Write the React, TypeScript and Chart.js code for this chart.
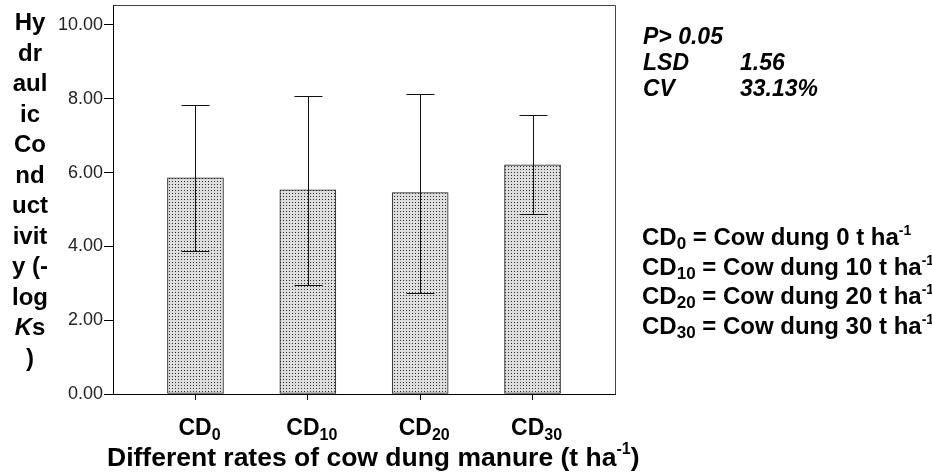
import React, { useEffect, useRef } from 'react';
import { Chart, registerables } from 'chart.js';

Chart.register(...registerables);

const FONT = "'Liberation Sans', Arial, Helvetica, sans-serif";

// ---- data ----
const categoryBase = ['CD', 'CD', 'CD', 'CD'];
const categorySub = ['0', '10', '20', '30'];
const means = [5.86, 5.53, 5.46, 6.21];
const errHigh = [7.82, 8.08, 8.14, 7.57];
const errLow = [3.88, 2.96, 2.73, 4.87];
const yTicks = [0, 2, 4, 6, 8, 10];
const yTitleLines = ['Hy', 'dr', 'aul', 'ic', 'Co', 'nd', 'uct', 'ivit', 'y (-', 'log', '*K*s', ')'];
const statNames = ['P> 0.05', 'LSD', 'CV'];
const statValues = ['', '1.56', '33.13%'];
const legendRates = ['0', '10', '20', '30'];

function makePattern(): CanvasPattern | string {
  const c = document.createElement('canvas');
  c.width = 3;
  c.height = 3;
  const g = c.getContext('2d');
  if (!g) return '#d0d0d0';
  g.fillStyle = '#dedede';
  g.fillRect(0, 0, 3, 3);
  g.fillStyle = '#2a2a2a';
  g.fillRect(1, 1, 1, 1);
  const p = g.createPattern(c, 'repeat');
  return p || '#d0d0d0';
}

const overlayPlugin = {
  id: 'overlay',
  afterDatasetsDraw(chart: any) {
    const { ctx, chartArea, scales } = chart;
    const xs = scales.x;
    const ys = scales.y;
    ctx.save();
    // box top/right border
    ctx.strokeStyle = '#444';
    ctx.lineWidth = 1;
    ctx.beginPath();
    ctx.moveTo(Math.round(chartArea.left) + 0.5, Math.round(chartArea.top) + 0.5);
    ctx.lineTo(Math.round(chartArea.right) + 0.5, Math.round(chartArea.top) + 0.5);
    ctx.lineTo(Math.round(chartArea.right) + 0.5, Math.round(chartArea.bottom) + 0.5);
    ctx.stroke();
    // error bars
    ctx.strokeStyle = '#111';
    const cap = 14;
    means.forEach((_, i) => {
      const x = Math.round(xs.getPixelForValue(i)) + 0.5;
      const yh = Math.round(ys.getPixelForValue(errHigh[i])) + 0.5;
      const yl = Math.round(ys.getPixelForValue(errLow[i])) + 0.5;
      ctx.beginPath();
      ctx.moveTo(x, yh);
      ctx.lineTo(x, yl);
      ctx.moveTo(x - cap, yh);
      ctx.lineTo(x + cap, yh);
      ctx.moveTo(x - cap, yl);
      ctx.lineTo(x + cap, yl);
      ctx.stroke();
    });
    // x category labels with subscripts
    ctx.fillStyle = '#000';
    ctx.textBaseline = 'alphabetic';
    ctx.textAlign = 'left';
    const baseY = chartArea.bottom + 41;
    categoryBase.forEach((b, i) => {
      ctx.font = `bold 23px ${FONT}`;
      const w1 = ctx.measureText(b).width;
      ctx.font = `bold 16px ${FONT}`;
      const w2 = ctx.measureText(categorySub[i]).width;
      const cx = xs.getPixelForValue(i) + 4;
      const start = cx - (w1 + w2) / 2;
      ctx.font = `bold 23px ${FONT}`;
      ctx.fillText(b, start, baseY);
      ctx.font = `bold 16px ${FONT}`;
      ctx.fillText(categorySub[i], start + w1, baseY + 5);
    });
    ctx.restore();
  },
};

function renderItalic(line: string) {
  const parts = line.split('*');
  return parts.map((p, i) => (i % 2 === 1 ? <i key={i}>{p}</i> : <span key={i}>{p}</span>));
}

export default function App() {
  const canvasRef = useRef<HTMLCanvasElement | null>(null);

  useEffect(() => {
    const canvas = canvasRef.current;
    if (!canvas) return;
    const chart = new Chart(canvas, {
      type: 'bar',
      data: {
        datasets: [
          {
            data: means.map((v, i) => ({ x: i, y: v })),
            backgroundColor: makePattern() as any,
            borderColor: '#222',
            borderWidth: 1,
            borderSkipped: false,
            barThickness: 56,
          },
        ],
      },
      options: {
        responsive: false,
        animation: false,
        devicePixelRatio: 1,
        layout: { padding: { left: 0, top: 5, right: 317, bottom: 0 } },
        plugins: { legend: { display: false }, tooltip: { enabled: false }, title: { display: false } },
        scales: {
          x: {
            type: 'linear',
            min: -0.734,
            max: 3.734,
            offset: false,
            afterBuildTicks: (s: any) => {
              s.ticks = categoryBase.map((_, i) => ({ value: i }));
            },
            afterFit: (s: any) => {
              s.height = 79;
              s.paddingLeft = 0;
              s.paddingRight = 0;
            },
            ticks: { callback: () => '', maxRotation: 0, autoSkip: false },
            grid: { offset: false, drawOnChartArea: false, drawTicks: true, tickLength: 6, color: '#000' },
            border: { display: true, color: '#000', width: 1 },
          },
          y: {
            type: 'linear',
            min: 0,
            max: 10.54,
            afterBuildTicks: (s: any) => {
              s.ticks = yTicks.map((v) => ({ value: v }));
            },
            afterFit: (s: any) => {
              s.width = 113;
              s.paddingTop = 0;
              s.paddingBottom = 0;
            },
            ticks: {
              callback: (v: any) => Number(v).toFixed(2),
              font: { size: 18, family: FONT },
              color: '#222',
              padding: 1,
            },
            grid: { drawOnChartArea: false, drawTicks: true, tickLength: 9, color: '#000' },
            border: { display: true, color: '#000', width: 1 },
          },
        },
      },
      plugins: [overlayPlugin],
    });
    return () => chart.destroy();
  }, []);

  const bold: React.CSSProperties = { fontWeight: 'bold', color: '#000', position: 'absolute', whiteSpace: 'nowrap' };
  const subStyle: React.CSSProperties = { fontSize: 17, position: 'relative', top: 4 };
  const supStyle: React.CSSProperties = { fontSize: 14, position: 'relative', top: -10 };

  return (
    <div
      style={{
        position: 'absolute',
        left: 0,
        top: 0,
        width: 932,
        height: 473,
        background: '#fff',
        overflow: 'hidden',
        fontFamily: FONT,
      }}
    >
      <canvas ref={canvasRef} width={932} height={473} style={{ position: 'absolute', left: 0, top: 0 }} />
      {/* y-axis title */}
      <div style={{ ...bold, left: 4, top: 7, width: 52, textAlign: 'center', fontSize: 24, lineHeight: '30.5px' }}>
        {yTitleLines.map((l, i) => (
          <div key={i}>{renderItalic(l)}</div>
        ))}
      </div>
      {/* x-axis title */}
      <div style={{ ...bold, left: 107, top: 442, fontSize: 26.5, lineHeight: '30px' }}>
        Different rates of cow dung manure (t ha<span style={{ fontSize: 16, position: 'relative', top: -12 }}>-1</span>)
      </div>
      {/* statistics */}
      <div style={{ ...bold, left: 643, top: 23, fontSize: 23, lineHeight: '26px', fontStyle: 'italic' }}>
        {statNames.map((n, i) => (
          <div key={i} style={{ position: 'relative', height: 26 }}>
            <span>{n}</span>
            {statValues[i] ? <span style={{ position: 'absolute', left: 97 }}>{statValues[i]}</span> : null}
          </div>
        ))}
      </div>
      {/* legend of treatments */}
      <div style={{ ...bold, left: 642, top: 224, fontSize: 24, lineHeight: '26.5px' }}>
        {legendRates.map((r, i) => (
          <div key={i}>
            CD<span style={subStyle}>{r}</span> = Cow dung {r} t ha<span style={supStyle}>-1</span>
          </div>
        ))}
      </div>
    </div>
  );
}
